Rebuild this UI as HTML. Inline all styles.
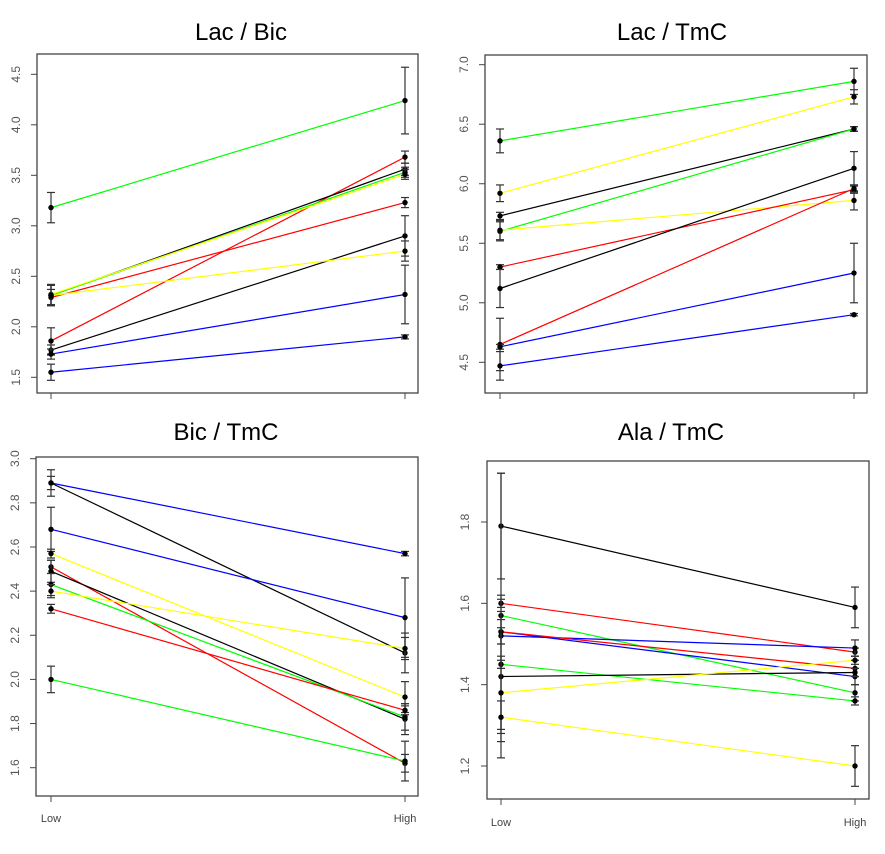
<!DOCTYPE html>
<html><head><meta charset="utf-8"><style>
body{margin:0;background:#fff;}
svg{display:block;font-family:"Liberation Sans",sans-serif;}
</style></head><body>
<svg id="c" width="885" height="854" xmlns="http://www.w3.org/2000/svg"></svg>
<script>
const categories=["Low","High"];
const seriesColors=["#00ff00","#ff0000","#000000","#00ff00","#ffff00","#ff0000","#000000","#ffff00","#0000ff","#0000ff"];
const p1Low=[3.18,1.86,2.31,2.31,2.32,2.29,1.77,2.31,1.73,1.55];
const p1High=[4.24,3.68,3.56,3.53,3.51,3.23,2.90,2.75,2.32,1.90];
const p1ErrLow=[0.15,0.13,0.1,0.1,0.1,0.08,0.05,0.1,0.05,0.08];
const p1ErrHigh=[0.33,0.06,0.06,0.05,0.05,0.05,0.2,0.1,0.29,0.02];
const p1Ticks=[1.5,2.0,2.5,3.0,3.5,4.0,4.5];
const p2Colors=["#00ff00","#ffff00","#000000","#00ff00","#ffff00","#ff0000","#000000","#ff0000","#0000ff","#0000ff"];
const p2Low=[6.36,5.92,5.73,5.60,5.61,5.30,5.12,4.65,4.63,4.47];
const p2High=[6.86,6.73,6.46,6.46,5.86,5.95,6.13,5.96,5.25,4.90];
const p2ErrLow=[0.1,0.07,0.03,0.08,0.08,0.02,0.16,0.22,0.02,0.12];
const p2ErrHigh=[0.11,0.06,0.02,0.02,0.08,0.03,0.14,0.03,0.25,0.01];
const p2Ticks=[4.5,5.0,5.5,6.0,6.5,7.0];
const p3Colors=["#0000ff","#000000","#0000ff","#ffff00","#ff0000","#000000","#00ff00","#ffff00","#ff0000","#00ff00"];
const p3Low=[2.89,2.89,2.68,2.57,2.51,2.49,2.43,2.40,2.32,2.00];
const p3High=[2.57,2.12,2.28,1.92,1.62,1.82,1.83,2.14,1.86,1.63];
const p3ErrLow=[0.06,0.03,0.1,0.02,0.03,0.05,0.05,0.03,0.02,0.06];
const p3ErrHigh=[0.01,0.09,0.18,0.07,0.04,0.07,0.06,0.05,0.02,0.09];
const p3Ticks=[1.6,1.8,2.0,2.2,2.4,2.6,2.8,3.0];
const p4Colors=["#000000","#ff0000","#00ff00","#0000ff","#0000ff","#ff0000","#00ff00","#000000","#ffff00","#ffff00"];
const p4Low=[1.79,1.60,1.57,1.53,1.52,1.53,1.45,1.42,1.38,1.32];
const p4High=[1.59,1.48,1.38,1.42,1.49,1.44,1.36,1.43,1.46,1.20];
const p4ErrLow=[0.13,0.01,0.35,0.09,0.02,0.03,0.01,0.16,0.09,0.04];
const p4ErrHigh=[0.05,0.01,0.02,0.02,0.02,0.02,0.01,0.01,0.01,0.05];
const p4Ticks=[1.2,1.4,1.6,1.8];
const titles=["Lac / Bic","Lac / TmC","Bic / TmC","Ala / TmC"];

const NS="http://www.w3.org/2000/svg";
const svg=document.getElementById('c');
function mk(tag,attrs,parent){const e=document.createElementNS(NS,tag);for(const k in attrs)e.setAttribute(k,attrs[k]);(parent||svg).appendChild(e);return e;}

const panels=[
 {box:[37,54,418,393],xl:51,xh:405,v0:1.5,y0:377.3,v1:4.5,y1:74.3,lab:16,tx:241,ty:40,cats:false,low:p1Low,high:p1High,el:p1ErrLow,eh:p1ErrHigh,ticks:p1Ticks,colors:seriesColors,dec:1},
 {box:[485,55,867,393],xl:500,xh:854,v0:4.5,y0:362.3,v1:7.0,y1:64.7,lab:464,tx:672,ty:40,cats:false,low:p2Low,high:p2High,el:p2ErrLow,eh:p2ErrHigh,ticks:p2Ticks,colors:p2Colors,dec:1},
 {box:[36,457,418,796],xl:51,xh:405,v0:1.6,y0:767.7,v1:3.0,y1:458.7,lab:15,tx:226,ty:440,cats:true,cy:822,low:p3Low,high:p3High,el:p3ErrLow,eh:p3ErrHigh,ticks:p3Ticks,colors:p3Colors,dec:1},
 {box:[487,461,869,799],xl:501,xh:855,v0:1.2,y0:766,v1:1.8,y1:522,lab:465,tx:671,ty:440,cats:true,cy:826,low:p4Low,high:p4High,el:p4ErrLow,eh:p4ErrHigh,ticks:p4Ticks,colors:p4Colors,dec:1}
];

panels.forEach((p,pi)=>{
  const g=mk('g',{});
  
  
  const ys=v=>p.y0+(v-p.v0)*(p.y1-p.y0)/(p.v1-p.v0);
  const xs=i=>i===0?p.xl:p.xh;
  const t=mk('text',{x:p.tx,y:p.ty,'text-anchor':'middle','font-size':24,fill:'#000'},g);
  t.textContent=titles[pi];
  
  
  const [bx0,by0,bx1,by1]=p.box;
  const r=mk('rect',{x:bx0,y:by0,width:bx1-bx0,height:by1-by0,fill:'none',stroke:'#444','stroke-width':1.3},g);
  
  
  p.ticks.forEach(v=>{
    const y=ys(v);
    mk('line',{x1:bx0,x2:bx0-6,y1:y,y2:y,stroke:'#444'},g);
    const tl=mk('text',{x:p.lab,y:y,'text-anchor':'middle','font-size':12,fill:'#555',transform:`rotate(-90 ${p.lab} ${y})`,dy:4},g);
    tl.textContent=v.toFixed(p.dec);
    
    
  });
  categories.forEach((c,i)=>{
    mk('line',{x1:xs(i),x2:xs(i),y1:by1,y2:by1+6,stroke:'#444'},g);
    if(p.cats){
      const cl=mk('text',{x:xs(i),y:p.cy,'text-anchor':'middle','font-size':11,fill:'#444'},g);
      cl.textContent=c;
      
      
    }
  });
  p.low.forEach((lv,s)=>{
    const hv=p.high[s];
    const ln=mk('line',{x1:xs(0),y1:ys(lv),x2:xs(1),y2:ys(hv),stroke:p.colors[s],'stroke-width':1.2},g);
    
    
  });
  p.low.forEach((lv,s)=>{
    [[0,lv,p.el[s]],[1,p.high[s],p.eh[s]]].forEach(([i,v,e])=>{
      const x=xs(i),ya=ys(v-e),yb=ys(v+e);
      mk('line',{x1:x,x2:x,y1:ya,y2:yb,stroke:'#333','stroke-width':1.2},g);
      mk('line',{x1:x-4,x2:x+4,y1:ya,y2:ya,stroke:'#333','stroke-width':1.2},g);
      mk('line',{x1:x-4,x2:x+4,y1:yb,y2:yb,stroke:'#333','stroke-width':1.2},g);
      const d=mk('circle',{cx:x,cy:ys(v),r:2.7,fill:'#000'},g);
      
      
    });
  });
});
</script>
</body></html>
